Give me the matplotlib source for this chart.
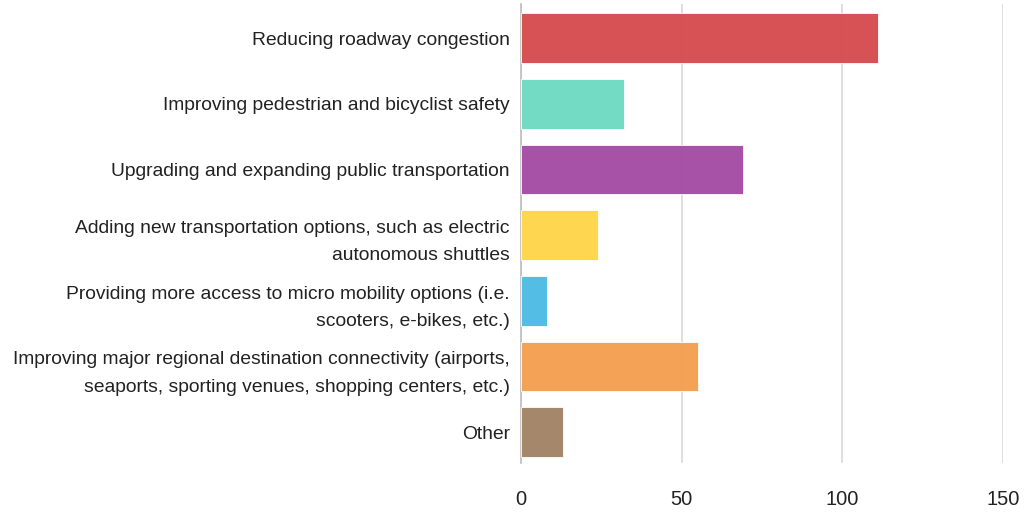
import numpy as np
import matplotlib.pyplot as plt

# survey answers, top to bottom
categories = [
    "Reducing roadway congestion",
    "Improving pedestrian and bicyclist safety",
    "Upgrading and expanding public transportation",
    "Adding new transportation options, such as electric\nautonomous shuttles",
    "Providing more access to micro mobility options (i.e.\nscooters, e-bikes, etc.)",
    "Improving major regional destination connectivity (airports,\nseaports, sporting venues, shopping centers, etc.)",
    "Other",
]
counts = [111, 32, 69, 24, 8, 55, 13]
x_ticks = [0, 50, 100, 150]

bar_colors = ["#d64c4f", "#6ed9c2", "#a44ca3", "#fed54a", "#4ebbe2", "#f49f4f", "#a28467"]

plt.rcParams['font.family'] = ['Liberation Sans', 'DejaVu Sans']

fig = plt.figure(figsize=(10.36, 5.14), dpi=100)
ax = fig.add_axes([0.503, 0.099, 0.465, 0.893])

y = np.arange(len(categories))
ax.barh(y, counts, height=0.76, color=bar_colors, alpha=0.97,
        edgecolor="white", linewidth=0.6, zorder=3)

ax.set_xlim(0, 150)
ax.set_ylim(6.472, -0.518)
ax.set_xticks(x_ticks)
ax.set_yticks(y)
ax.set_yticklabels(categories, fontsize=13.9, color="#222222", linespacing=1.78)
ax.tick_params(axis="y", length=0, pad=8)
ax.tick_params(axis="x", length=0, pad=19, labelsize=14.5, labelcolor="#222222")

ax.grid(axis="x", color="#d9d9d9", linewidth=1.2, zorder=0)
ax.set_axisbelow(True)
for side in ["top", "right", "bottom"]:
    ax.spines[side].set_visible(False)
ax.spines["left"].set_color("#bdbdbd")
ax.spines["left"].set_linewidth(1.2)

fig.savefig("out.png", dpi=100)
